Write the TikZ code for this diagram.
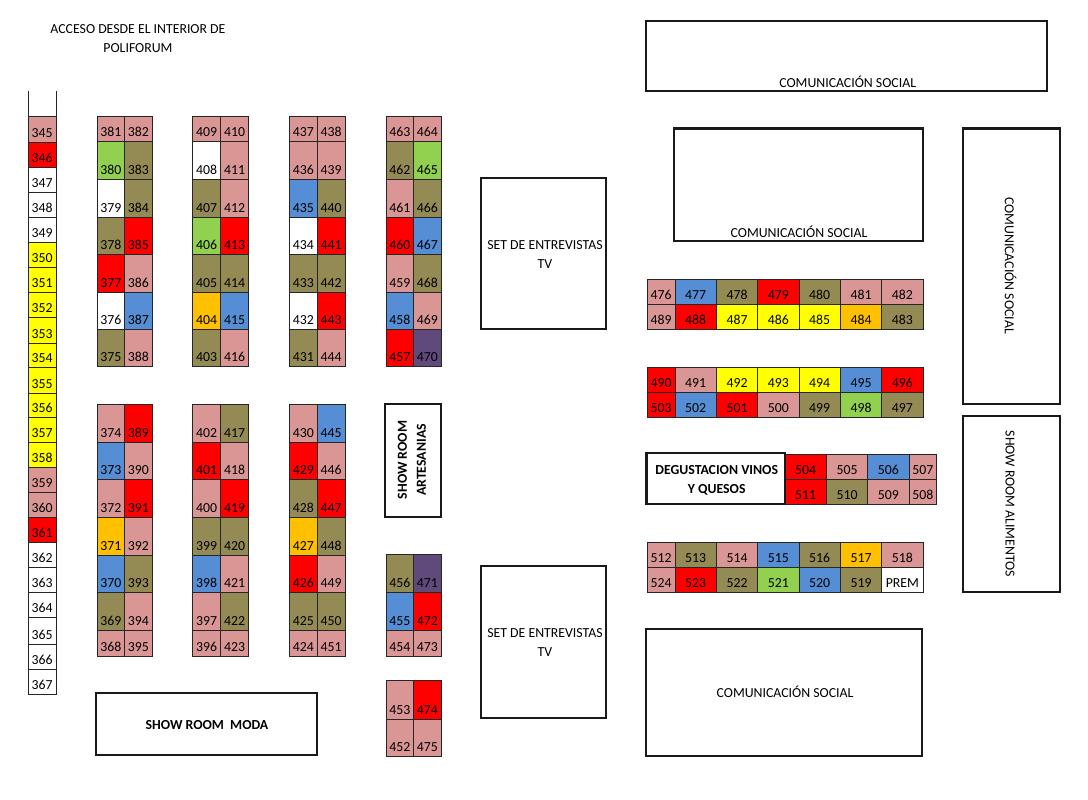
\documentclass[tikz,border=0pt]{standalone}
\usepackage{fontspec}
\setmainfont{Carlito}
\definecolor{rosa}{HTML}{DA9694}
\definecolor{oliva}{HTML}{948A54}
\definecolor{rojo}{HTML}{FF0000}
\definecolor{blanco}{HTML}{FFFFFF}
\definecolor{amarillo}{HTML}{FFFF00}
\definecolor{naranja}{HTML}{FFC000}
\definecolor{azul}{HTML}{558ED5}
\definecolor{verde}{HTML}{92D050}
\definecolor{morado}{HTML}{604A7B}

% one stand: number, tone, x0, y0, x1, y1
\newcommand{\stand}[6]{
  \pgfmathsetmacro{\sw}{#5-#3}
  \pgfmathsetmacro{\st}{#6-#4-5}
  \pgfmathsetmacro{\sx}{(#3+#5)/2}
  \pgfmathsetmacro{\sy}{(#4+#6)/2}
  \node[standbox, fill=#2, text width=\sw pt, text height=\st pt] (s#1) at (\sx,\sy) {#1};
}
% x0, x1, row limits, stands from top to bottom
\newcommand{\standcol}[4]{
  \foreach \snum/\tone [count=\i] in {#4} {
    \pgfmathsetmacro{\ya}{{#3}[\i-1]}
    \pgfmathsetmacro{\yb}{{#3}[\i]}
    \stand{\snum}{\tone}{#1}{\ya}{#2}{\yb}
  }
}
% y0, y1, column limits, stands from left to right
\newcommand{\standrow}[4]{
  \foreach \snum/\tone [count=\i] in {#4} {
    \pgfmathsetmacro{\xa}{{#3}[\i-1]}
    \pgfmathsetmacro{\xb}{{#3}[\i]}
    \stand{\snum}{\tone}{\xa}{#1}{\xb}{#2}
  }
}

\begin{document}
\begin{tikzpicture}[x=1pt, y=-1pt,
  every node/.style={font=\fontsize{13.8}{19}\selectfont},
  standbox/.style={draw=black!85, line width=1pt, inner sep=0pt, outer sep=0pt,
                   align=center, text depth=5pt},
  hall/.style={draw=black!90, line width=2.3pt, inner sep=0pt, outer sep=0pt, fill=white},
  halltext/.style={align=center, inner sep=0pt},
  boldtext/.style={align=center, inner sep=0pt, font=\fontsize{13.8}{19}\selectfont\bfseries}]

  \useasboundingbox (0,0) rectangle (1088,800);

  \def\rowsstrip{116.7,142,167,192,217,242,267,292,317,343,367.5,393,417,442,467,492,517,542,567,592,617,644,669,694}
  \def\rowsup{116.7,141.7,179.3,217,254.3,292,329.3,366.7}
  \def\rowslow{404,442,479.7,517.3,555,592.3,630,656}
  \def\rowsmid{554.5,592.5,630,656}
  \def\rowsend{680.7,719,756}
  \def\colsbar{647.3,675,716.3,757.7,799,840.3,881.7,923}
  \def\colsdeg{785,826.3,867.7,909,936.7}

  \node[halltext] (acceso) at (138,38.5) {ACCESO DESDE EL INTERIOR DE\\POLIFORUM};

  % Left strip
  \standcol{28}{56}{\rowsstrip}{345/rosa,346/rojo,347/blanco,348/blanco,349/blanco,
    350/amarillo,351/amarillo,352/amarillo,353/amarillo,354/amarillo,355/amarillo,
    356/amarillo,357/amarillo,358/amarillo,359/rosa,360/rosa,361/rojo,362/blanco,
    363/blanco,364/blanco,365/blanco,366/blanco,367/blanco}
  \coordinate (stripl) at (28,91);
  \coordinate (stripr) at (56,91);
  \draw[black!85, line width=1pt] (stripl) -- (s345.north west);
  \draw[black!85, line width=1pt] (stripr) -- (s345.north east);

  % First block
  \standcol{97}{124.5}{\rowsup}{381/rosa,380/verde,379/blanco,378/oliva,377/rojo,376/blanco,375/oliva}
  \standcol{124.5}{152}{\rowsup}{382/rosa,383/oliva,384/oliva,385/rojo,386/rosa,387/azul,388/rosa}
  \standcol{97}{124.5}{\rowslow}{374/rosa,373/azul,372/rosa,371/naranja,370/azul,369/oliva,368/rosa}
  \standcol{124.5}{152}{\rowslow}{389/rojo,390/rosa,391/rojo,392/rosa,393/oliva,394/rosa,395/rosa}

  % Second block
  \standcol{192.7}{220.7}{\rowsup}{409/rosa,408/blanco,407/oliva,406/verde,405/oliva,404/naranja,403/oliva}
  \standcol{220.7}{248.3}{\rowsup}{410/rosa,411/rosa,412/rosa,413/rojo,414/oliva,415/azul,416/rosa}
  \standcol{192.7}{220.7}{\rowslow}{402/rosa,401/rojo,400/rosa,399/oliva,398/azul,397/rosa,396/rosa}
  \standcol{220.7}{248.3}{\rowslow}{417/oliva,418/rosa,419/rojo,420/oliva,421/rosa,422/oliva,423/rosa}

  % Third block
  \standcol{289.3}{317.3}{\rowsup}{437/rosa,436/rosa,435/azul,434/blanco,433/oliva,432/blanco,431/oliva}
  \standcol{317.3}{345}{\rowsup}{438/rosa,439/rosa,440/oliva,441/rojo,442/oliva,443/rojo,444/rosa}
  \standcol{289.3}{317.3}{\rowslow}{430/rosa,429/rojo,428/oliva,427/naranja,426/rojo,425/oliva,424/rosa}
  \standcol{317.3}{345}{\rowslow}{445/azul,446/rosa,447/rojo,448/oliva,449/rosa,450/oliva,451/rosa}

  % Fourth block
  \standcol{386}{413.5}{\rowsup}{463/rosa,462/oliva,461/rosa,460/rojo,459/rosa,458/azul,457/rojo}
  \standcol{413.5}{441}{\rowsup}{464/rosa,465/verde,466/oliva,467/azul,468/oliva,469/rosa,470/morado}
  \standcol{386}{413.5}{\rowsmid}{456/oliva,455/azul,454/rosa}
  \standcol{413.5}{441}{\rowsmid}{471/morado,472/rojo,473/rosa}
  \standcol{386}{413.5}{\rowsend}{453/rosa,452/rosa}
  \standcol{413.5}{441}{\rowsend}{474/rojo,475/rosa}

  % Right bars
  \standrow{279}{304.7}{\colsbar}{476/rosa,477/azul,478/oliva,479/rojo,480/oliva,481/rosa,482/rosa}
  \standrow{304.7}{329.7}{\colsbar}{489/rosa,488/rojo,487/amarillo,486/amarillo,485/amarillo,484/naranja,483/oliva}
  \standrow{367}{392.3}{\colsbar}{490/rojo,491/rosa,492/amarillo,493/amarillo,494/amarillo,495/azul,496/rojo}
  \standrow{392.3}{417}{\colsbar}{503/rojo,502/azul,501/rojo,500/rosa,499/oliva,498/verde,497/oliva}
  \standrow{454.3}{479.7}{\colsdeg}{504/rojo,505/rosa,506/azul,507/rosa}
  \standrow{479.7}{504.7}{\colsdeg}{511/rojo,510/oliva,509/rosa,508/rosa}
  \standrow{542.3}{567.3}{\colsbar}{512/rosa,513/oliva,514/rosa,515/azul,516/oliva,517/naranja,518/rosa}
  \standrow{567.3}{592.3}{\colsbar}{524/rosa,523/rojo,522/oliva,521/verde,520/azul,519/oliva,PREM/blanco}

  % Halls
  \node[hall, minimum width=400.7pt, minimum height=70.3pt] (cs1) at (846.4,55.9) {};
  \node[halltext] (cs1t) at (847.7,81.7) {COMUNICACIÓN SOCIAL};
  \node[hall, minimum width=248.7pt, minimum height=112.7pt] (cs2) at (798.4,184.7) {};
  \node[halltext] (cs2t) at (799,231.7) {COMUNICACIÓN SOCIAL};
  \node[hall, minimum width=97.3pt, minimum height=275.7pt] (cs3) at (1011.4,266.2) {};
  \node[halltext, rotate=-90] (cs3t) at (1010.5,265.5) {COMUNICACIÓN SOCIAL};
  \node[hall, minimum width=276pt, minimum height=127pt] (cs4) at (784,692.5) {};
  \node[halltext] (cs4t) at (785,691.5) {COMUNICACIÓN SOCIAL};

  \node[hall, minimum width=125pt, minimum height=151pt] (set1) at (543.5,253.5) {};
  \node[halltext] (set1t) at (545,254.5) {SET DE ENTREVISTAS\\TV};
  \node[hall, minimum width=125pt, minimum height=152pt] (set2) at (543.5,642) {};
  \node[halltext] (set2t) at (545,643) {SET DE ENTREVISTAS\\TV};

  \node[hall, minimum width=97.3pt, minimum height=176pt] (alim) at (1011.4,504) {};
  \node[halltext, rotate=-90] (alimt) at (1010,504) {SHOW ROOM ALIMENTOS};
  \node[hall, minimum width=221pt, minimum height=62pt] (moda) at (206.5,724) {};
  \node[boldtext] (modat) at (207,725) {SHOW ROOM\ \ MODA};
  \node[hall, minimum width=55.7pt, minimum height=113pt] (arte) at (412.8,460.2) {};
  \node[boldtext, rotate=90] (artet) at (412,460) {SHOW ROOM\\ARTESANIAS};
  \node[hall, minimum width=138.7pt, minimum height=51pt] (degu) at (715.7,478.8) {};
  \node[boldtext] (degut) at (716.7,480) {DEGUSTACION VINOS\\Y QUESOS};
\end{tikzpicture}
\end{document}
